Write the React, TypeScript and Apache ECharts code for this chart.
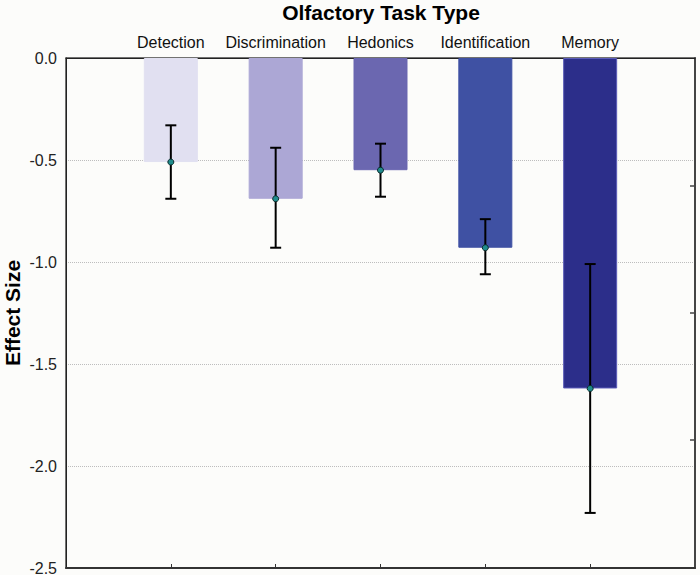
import React, { useEffect, useRef } from "react";
import * as echarts from "echarts";

const categories = ["Detection", "Discrimination", "Hedonics", "Identification", "Memory"];
const effectSize = [-0.51, -0.69, -0.55, -0.93, -1.62];
const ciUpper = [-0.33, -0.44, -0.42, -0.79, -1.01];
const ciLower = [-0.69, -0.93, -0.68, -1.06, -2.23];
const barColors = ["#e1e0f1", "#aca7d5", "#6b67b0", "#3f51a3", "#2c2e8a"];
const barBorders = ["#e1e0f1", "#aca7d5", "#6b67b0", "#3f51a3", "#5b5cb8"];
const positions = [1, 2, 3, 4, 5];
const yTickLabels = ["0.0", "-0.5", "-1.0", "-1.5", "-2.0", "-2.5"];
const rightTicks = [-0.627, -1.25, -1.873];

export default function App() {
  const ref = useRef<HTMLDivElement>(null);
  useEffect(() => {
    if (!ref.current) return;
    const chart = echarts.init(ref.current, null, { renderer: "svg" });
    const font = "Liberation Sans";
    const option: any = {
      animation: false,
      backgroundColor: "#fcfcfa",
      textStyle: { fontFamily: font },
      title: {
        text: "Olfactory Task Type",
        left: 381,
        textAlign: "center",
        top: 2,
        padding: 0,
        textStyle: { fontFamily: font, fontSize: 21, fontWeight: "bold", color: "#000" },
      },
      grid: {
        left: 66,
        right: 5,
        top: 58,
        bottom: 7,
        containLabel: false,
        outerBoundsMode: "none",
        show: true,
        borderColor: "#444",
        borderWidth: 1.5,
        backgroundColor: "transparent",
      },
      xAxis: [
        {
          type: "value",
          position: "bottom",
          min: 0,
          max: 6,
          axisLine: { show: true, onZero: false, lineStyle: { color: "#333", width: 2 } },
          axisTick: { show: true, inside: true, length: 4, customValues: positions, lineStyle: { color: "#333" } },
          axisLabel: { show: false },
          splitLine: { show: false },
        },
        {
          type: "value",
          position: "top",
          min: 0,
          max: 6,
          axisLine: { show: true, onZero: false, lineStyle: { color: "#222", width: 1 } },
          axisTick: { show: true, inside: true, length: 4, customValues: positions, lineStyle: { color: "#222" } },
          axisLabel: {
            show: true,
            customValues: positions,
            formatter: (v: number) => categories[Math.round(v) - 1] ?? "",
            margin: 8,
            fontSize: 16,
            color: "#111",
            fontFamily: font,
          },
          splitLine: { show: false },
        },
      ],
      yAxis: [
        {
          type: "value",
          position: "left",
          min: -2.5,
          max: 0,
          interval: 0.5,
          name: "Effect Size",
          nameLocation: "middle",
          nameGap: 43,
          nameMoveOverlap: false,
          nameTextStyle: { fontFamily: font, fontSize: 21, fontWeight: "bold", color: "#000" },
          axisLine: { show: true, onZero: false, lineStyle: { color: "#222", width: 1 } },
          axisTick: { show: false },
          axisLabel: {
            fontSize: 16,
            color: "#222",
            margin: 9,
            fontFamily: font,
            formatter: (v: number) => yTickLabels[Math.round(-v / 0.5)] ?? v.toFixed(1),
          },
          splitLine: { show: true, lineStyle: { color: "#bdbdbd", type: [1, 1], width: 1 } },
        },
        {
          type: "value",
          position: "right",
          min: -2.5,
          max: 0,
          axisLine: { show: true, onZero: false, lineStyle: { color: "#444", width: 2 } },
          axisTick: { show: true, inside: true, length: 5, customValues: rightTicks, lineStyle: { color: "#444", width: 1.5 } },
          axisLabel: { show: false },
          splitLine: { show: false },
        },
      ],
      series: [
        {
          type: "bar",
          xAxisIndex: 0,
          yAxisIndex: 0,
          barWidth: 54,
          data: positions.map((p, i) => ({
            value: [p, effectSize[i]],
            itemStyle: { color: barColors[i], borderColor: barBorders[i], borderWidth: 1 },
          })),
          z: 2,
        },
        {
          type: "custom",
          xAxisIndex: 0,
          yAxisIndex: 0,
          data: positions.map((p, i) => [p, ciUpper[i], ciLower[i]]),
          encode: { x: 0, y: [1, 2] },
          z: 3,
          renderItem: (params: any, api: any) => {
            const x = api.value(0);
            const top = api.coord([x, api.value(1)]);
            const bot = api.coord([x, api.value(2)]);
            const hw = 5.5;
            const style = { stroke: "#000", lineWidth: 2 };
            return {
              type: "group",
              children: [
                { type: "line", shape: { x1: top[0], y1: top[1], x2: bot[0], y2: bot[1] }, style },
                { type: "line", shape: { x1: top[0] - hw, y1: top[1], x2: top[0] + hw, y2: top[1] }, style },
                { type: "line", shape: { x1: bot[0] - hw, y1: bot[1], x2: bot[0] + hw, y2: bot[1] }, style },
              ],
            };
          },
        },
        {
          type: "scatter",
          xAxisIndex: 0,
          yAxisIndex: 0,
          symbol: "circle",
          symbolSize: 6,
          data: positions.map((p, i) => [p, effectSize[i]]),
          itemStyle: { color: "#1f8c8c", borderColor: "#0a2a2a", borderWidth: 1, opacity: 1 },
          z: 4,
        },
      ],
    };
    chart.setOption(option);
    return () => chart.dispose();
  }, []);
  return (
    <div
      ref={ref}
      style={{ position: "fixed", left: 0, top: 0, width: 700, height: 575 }}
    />
  );
}
